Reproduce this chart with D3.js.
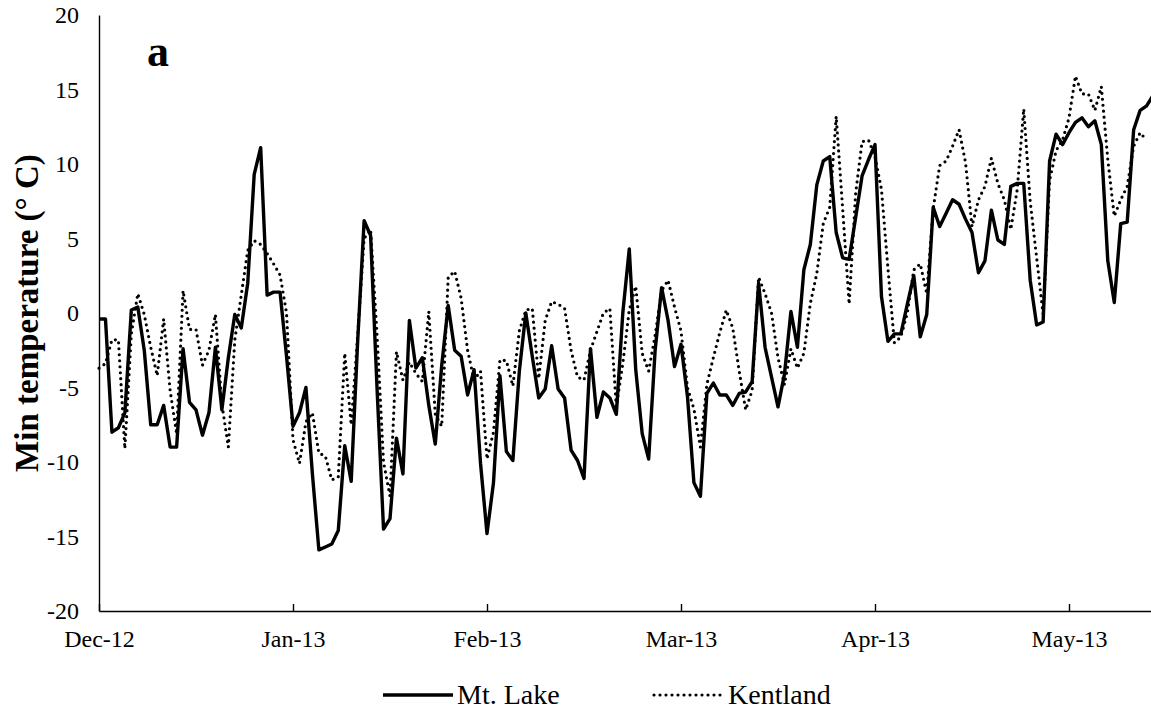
<!DOCTYPE html>
<html>
<head>
<meta charset="utf-8">
<script src="https://cdn.jsdelivr.net/npm/d3@7"></script>
<style>
  body { margin: 0; background: #fff; }
  svg { display: block; font-family: "Liberation Serif", "Times New Roman", serif; }
</style>
</head>
<body>
<svg id="chart" width="1151" height="719"></svg>
<script>
// Tick labels (one every 30 days from Dec 1, 2012)
const monthLabels = ["Dec-12", "Jan-13", "Feb-13", "Mar-13", "Apr-13", "May-13"];
const monthTickDays = [0, 30, 60, 90, 120, 150];
const yTicks = [-20, -15, -10, -5, 0, 5, 10, 15, 20];
const seriesNames = ["Mt. Lake", "Kentland"];

// Daily minimum temperature (°C)
const mtLake = [
  -0.4, -0.4, -8.0, -7.7, -6.7, 0.2, 0.4, -2.5, -7.5, -7.5,
  -6.2, -9.0, -9.0, -2.4, -6.0, -6.5, -8.2, -6.7, -2.3, -6.5,
  -3.0, -0.1, -1.0, 2.0, 9.3, 11.1, 1.2, 1.4, 1.4, -2.9,
  -7.6, -6.7, -5.0, -10.8, -15.9, -15.7, -15.5, -14.6, -8.9, -11.3,
  -1.9, 6.2, 5.2, -5.1, -14.5, -13.8, -8.4, -10.8, -0.5, -3.7,
  -3.0, -6.2, -8.8, -3.5, 0.5, -2.5, -2.9, -5.5, -3.8, -10.1,
  -14.8, -11.4, -4.2, -9.3, -9.9, -3.9, 0.0, -2.9, -5.7, -5.1,
  -2.2, -5.1, -5.7, -9.2, -9.9, -11.1, -2.4, -7.0, -5.3, -5.7,
  -6.8, 0.0, 4.3, -3.8, -8.1, -9.8, -2.5, 1.7, -0.5, -3.6,
  -2.1, -5.6, -11.4, -12.3, -5.4, -4.7, -5.5, -5.5, -6.2, -5.4,
  -5.3, -4.6, 2.0, -2.3, -4.3, -6.3, -4.1, 0.1, -2.3, 2.9,
  4.6, 8.6, 10.2, 10.5, 5.4, 3.7, 3.6, 6.4, 9.2, 10.3,
  11.3, 1.1, -1.9, -1.4, -1.4, 0.6, 2.5, -1.6, -0.1, 7.1,
  5.8, 6.7, 7.6, 7.3, 6.3, 5.4, 2.7, 3.5, 6.9, 4.9,
  4.6, 8.5, 8.7, 8.7, 2.2, -0.8, -0.6, 10.2, 12.0, 11.3,
  12.1, 12.8, 13.1, 12.5, 12.9, 11.3, 3.5, 0.7, 6.0, 6.1,
  12.3, 13.6, 13.9, 14.6
];

const kentland = [
  -3.7, -3.4, -1.8, -1.8, -9.1, -1.4, 1.3, -0.1, -2.3, -4.2,
  -0.4, -5.2, -8.1, 1.5, -1.1, -1.1, -3.5, -2.5, -0.1, -6.1,
  -9.0, -1.8, 1.2, 4.2, 4.85, 4.6, 4.0, 3.3, 2.55, 0.0,
  -8.5, -10.1, -7.3, -6.7, -9.4, -9.6, -11.2, -11.0, -2.7, -7.5,
  -1.5, 5.0, 5.6, -1.5, -10.0, -12.3, -2.6, -4.5, -3.3, -4.05,
  -4.6, 0.1, -6.8, -7.6, 2.4, 2.8, 1.0, -2.5, -4.5, -3.9,
  -9.8, -8.0, -3.15, -3.2, -4.9, -1.2, 0.2, 0.3, -4.4, -0.5,
  0.76, 0.6, 0.3, -2.5, -4.3, -4.5, -2.5, -1.25, 0.0, 0.3,
  -6.3, -3.4, 0.2, 1.8, -2.7, -3.9, -1.5, 1.5, 2.2, 0.4,
  -1.2, -5.0, -6.45, -9.0, -4.8, -3.0, -1.3, 0.2, -1.0, -3.9,
  -6.5, -5.2, 2.4, 1.3, 0.0, -3.0, -4.8, -2.4, -3.7, -2.7,
  0.65, 2.65, 6.0, 7.1, 13.2, 7.0, 0.6, 8.0, 11.5, 11.6,
  10.5, 8.3, 3.0, -2.0, -1.6, 0.0, 2.9, 3.3, 1.3, 7.0,
  9.9, 10.2, 11.2, 12.3, 10.1, 5.8, 7.6, 8.5, 10.4, 8.7,
  7.6, 5.6, 8.3, 13.7, 7.5, 3.7, -0.1, 8.9, 10.9, 11.6,
  13.1, 15.9, 14.7, 14.7, 13.6, 15.2, 10.3, 6.5, 7.6, 8.5,
  11.2, 12.1, 11.6
];

const svg = d3.select("#chart");

// Plot area (the chart runs slightly past the right edge of the picture)
const plot = { left: 99, top: 15, bottom: 611, dayWidth: 194 / 30 };
const serif = "Liberation Serif, Times New Roman, serif";
const dotted = "0 6";

const x = d3.scaleLinear()
    .domain([0, mtLake.length - 1])
    .range([plot.left, plot.left + (mtLake.length - 1) * plot.dayWidth]);

const y = d3.scaleLinear()
    .domain([-20, 20])
    .range([plot.bottom, plot.top]);

// Y axis (no tick marks, plain hyphen for negatives)
const yAxis = svg.append("g")
    .attr("transform", `translate(${plot.left},0)`)
    .call(d3.axisLeft(y)
        .tickValues(yTicks)
        .tickFormat(d => String(d))
        .tickSize(0)
        .tickPadding(20));
yAxis.select(".domain").attr("stroke", "#000").attr("stroke-width", 1.4);
yAxis.selectAll("text")
    .attr("font-size", 24)
    .attr("font-family", serif)
    .attr("fill", "#000");

// X axis with inward tick marks
const xAxis = svg.append("g")
    .attr("transform", `translate(0,${plot.bottom})`)
    .call(d3.axisBottom(x)
        .tickValues(monthTickDays)
        .tickFormat((d, i) => monthLabels[i])
        .tickSizeInner(-7)
        .tickSizeOuter(0)
        .tickPadding(19));
xAxis.select(".domain").attr("stroke", "#000").attr("stroke-width", 1.4);
xAxis.selectAll(".tick line").attr("stroke", "#000").attr("stroke-width", 1.4);
xAxis.selectAll("text")
    .attr("font-size", 24)
    .attr("font-family", serif)
    .attr("fill", "#000");

// Data lines
const line = d3.line()
    .x((d, i) => x(i))
    .y(d => y(d));

svg.append("path")
    .datum(kentland)
    .attr("fill", "none")
    .attr("stroke", "#000")
    .attr("stroke-width", 3.2)
    .attr("stroke-linecap", "round")
    .attr("stroke-linejoin", "round")
    .attr("stroke-dasharray", dotted)
    .attr("d", line);

svg.append("path")
    .datum(mtLake)
    .attr("fill", "none")
    .attr("stroke", "#000")
    .attr("stroke-width", 3.4)
    .attr("stroke-linejoin", "round")
    .attr("d", line);

// Y axis title
svg.append("text")
    .attr("transform", `translate(38,${y(0)}) rotate(-90)`)
    .attr("text-anchor", "middle")
    .attr("font-family", serif)
    .attr("font-size", 33)
    .attr("font-weight", "bold")
    .text("Min temperature (° C)");

// Panel letter
svg.append("text")
    .attr("x", 147)
    .attr("y", 66)
    .attr("font-family", serif)
    .attr("font-size", 44)
    .attr("font-weight", "bold")
    .text("a");

// Legend
const legend = svg.append("g").attr("transform", "translate(0,695)");
const legendItems = [
    { name: seriesNames[0], x0: 383, dash: null, w: 3.4 },
    { name: seriesNames[1], x0: 654, dash: dotted, w: 3.2 }
];
legendItems.forEach(item => {
    legend.append("line")
        .attr("x1", item.x0).attr("x2", item.x0 + 70)
        .attr("y1", 0).attr("y2", 0)
        .attr("stroke", "#000")
        .attr("stroke-width", item.w)
        .attr("stroke-linecap", item.dash ? "round" : "butt")
        .attr("stroke-dasharray", item.dash);
    legend.append("text")
        .attr("x", item.x0 + 74)
        .attr("y", 9)
        .attr("font-family", serif)
        .attr("font-size", 28)
        .text(item.name);
});
</script>
</body>
</html>
